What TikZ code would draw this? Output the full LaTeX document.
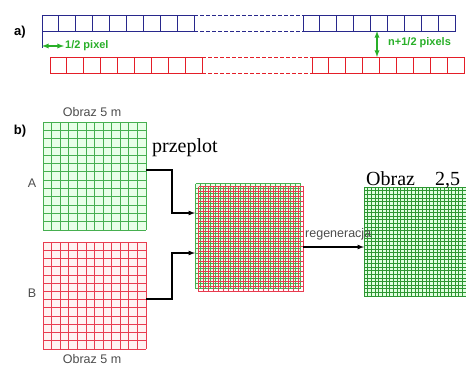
\documentclass[tikz,border=0pt]{standalone}
\usepackage{fontspec}
\setmainfont{Liberation Serif}
\setsansfont{Liberation Sans}
\usetikzlibrary{arrows}
\definecolor{rowblue}{RGB}{40,40,140}
\definecolor{rowred}{RGB}{228,30,40}
\definecolor{markgreen}{RGB}{40,175,40}
\definecolor{gridgreen}{RGB}{70,175,80}
\definecolor{gridred}{RGB}{232,60,80}
\definecolor{darkgrid}{RGB}{45,150,50}
\tikzset{
  bluecell/.style={draw=rowblue, line width=0.9pt},
  redcell/.style={draw=rowred, line width=0.9pt},
  gapline/.style={dashed, dash pattern=on 4pt off 2pt, line width=0.9pt},
  shiftarrow/.style={<->, >=latex, markgreen, line width=1.3pt},
  marktext/.style={markgreen, font=\sffamily\bfseries\fontsize{11}{12}\selectfont},
  parttag/.style={font=\sffamily\bfseries\fontsize{13}{14}\selectfont},
  caption/.style={text=black!70, font=\sffamily\fontsize{12.5}{14}\selectfont},
  bigtext/.style={font=\fontsize{20}{22}\selectfont},
  flow/.style={->, >=latex, black, line width=1.2pt}
}
\begin{document}
\begin{tikzpicture}[x=1pt, y=-1pt]
  \useasboundingbox (0,0) rectangle (466,365);

  % a) two rows of pixels
  \node[parttag] (la) at (20,32) {a)};
  \foreach \i in {0,...,8} {
    \draw[bluecell] ({42+\i*16.9},15) rectangle ++(16.9,16);
    \draw[bluecell] ({303+\i*16.9},15) rectangle ++(16.9,16);
    \draw[redcell] ({50+\i*16.9},57) rectangle ++(16.9,16);
    \draw[redcell] ({312+\i*16.9},57) rectangle ++(16.9,16);
  }
  \draw[rowblue, gapline] (194,15) -- (303,15) (194,31) -- (303,31);
  \draw[rowred, gapline] (202,57) -- (312,57) (202,73) -- (312,73);

  \coordinate (edge) at (42,31);
  \coordinate (h1) at (42,46);
  \coordinate (h2) at (64,46);
  \coordinate (v1) at (377,31);
  \coordinate (v2) at (377,57);
  \draw[rowblue, thin] (edge) -- ++(0,17);
  \draw[shiftarrow] (h1) -- (h2) node[marktext, right, inner sep=0.5pt] (half) {1/2 pixel};
  \draw[shiftarrow] (v1) -- (v2);
  \node[marktext, right, inner sep=0pt] (npix) at (388,43) {n+1/2 pixels};

  % b) two images, interleaved, regenerated
  \node[parttag] (lb) at (20,131) {b)};

  \fill[green!9] (43,122) rectangle (146,230);
  \foreach \i in {0,...,12} \draw[gridgreen, line width=0.7pt] ({43+\i*8.58},122) -- ++(0,108);
  \foreach \j in {0,...,13} \draw[gridgreen, line width=0.7pt] (43,{122+\j*8.3}) -- ++(103,0);

  \fill[red!5] (43,242) rectangle (146,349);
  \foreach \i in {0,...,12} \draw[gridred, line width=0.7pt] ({43+\i*8.58},242) -- ++(0,107);
  \foreach \j in {0,...,13} \draw[gridred, line width=0.7pt] (43,{242+\j*8.23}) -- ++(103,0);

  \fill[green!8] (195.5,183.5) rectangle (300.5,288.5);
  \foreach \i in {0,...,21} \draw[gridgreen, line width=0.6pt] ({195.5+\i*5},183.5) -- ++(0,105);
  \foreach \j in {0,...,21} \draw[gridgreen, line width=0.6pt] (195.5,{183.5+\j*5}) -- ++(105,0);
  \foreach \i in {0,...,21} \draw[gridred, line width=0.6pt] ({198.5+\i*5},186.5) -- ++(0,105);
  \foreach \j in {0,...,21} \draw[gridred, line width=0.6pt] (198.5,{186.5+\j*5}) -- ++(105,0);

  \fill[green!12] (364,187) rectangle (470,296);
  \foreach \i in {0,...,30} \draw[darkgrid, line width=0.4pt] ({364+\i*3.64},187) -- ++(0,109);
  \foreach \j in {0,...,30} \draw[darkgrid, line width=0.4pt] (364,{187+\j*3.63}) -- ++(106,0);

  \node[caption] (capA) at (92,112) {Obraz 5 m};
  \node[caption] (capB) at (92,359) {Obraz 5 m};
  \node[caption] (A) at (32,183) {A};
  \node[caption] (B) at (32,293) {B};
  \node[bigtext, anchor=west, inner sep=0pt] (mix) at (152,148) {przeplot};
  \node[bigtext, anchor=west, inner sep=0pt] (fine) at (366,180) {Obraz\quad 2,5};
  \node[caption, anchor=west, inner sep=0pt] (regen) at (305,234) {regeneracja};

  \coordinate (outA) at (146,170);
  \coordinate (inA) at (195,213);
  \coordinate (outB) at (146,299);
  \coordinate (inB) at (195,253);
  \coordinate (outM) at (303,247);
  \coordinate (inR) at (364,247);
  \draw[flow] (outA) -- (172,170) |- (inA);
  \draw[flow] (outB) -- (172,299) |- (inB);
  \draw[flow] (outM) -- (inR);
\end{tikzpicture}
\end{document}
